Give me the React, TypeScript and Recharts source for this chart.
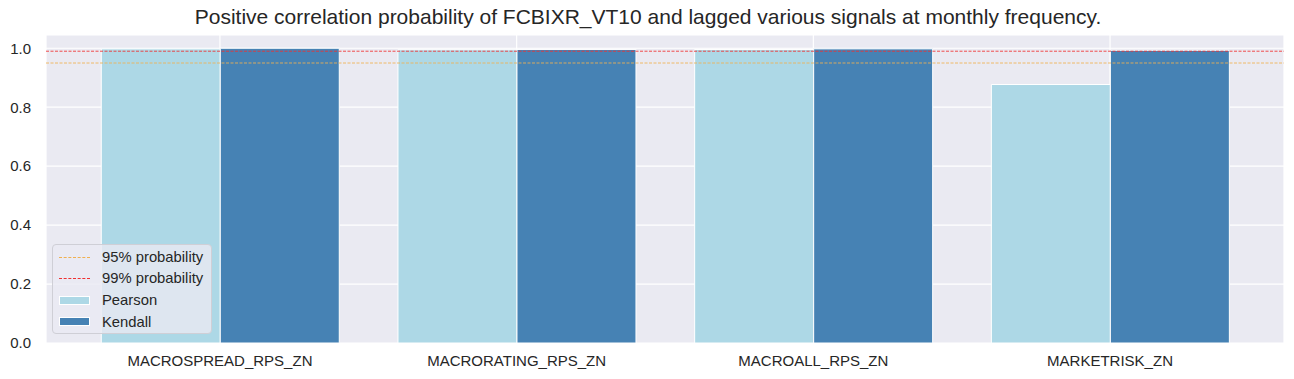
import React from 'react';
import { BarChart, Bar, XAxis, YAxis, CartesianGrid, ReferenceLine } from 'recharts';

const signals = ['MACROSPREAD_RPS_ZN', 'MACRORATING_RPS_ZN', 'MACROALL_RPS_ZN', 'MARKETRISK_ZN'];
const pearson = [0.998, 0.995, 0.996, 0.877];
const kendall = [1.0, 0.996, 0.998, 0.993];
const yTicks = [0, 0.2, 0.4, 0.6, 0.8, 1.0];
const thresholds = [
  { value: 0.95, label: '95% probability', color: '#f0b050' },
  { value: 0.99, label: '99% probability', color: '#f03030' },
];

const data = signals.map((name, i) => ({ name, Pearson: pearson[i], Kendall: kendall[i] }));

const FONT = '"Liberation Sans", Arial, sans-serif';
const TEXT = '#262626';

const LegendBox = () => (
  <div
    style={{
      position: 'absolute',
      left: 52,
      top: 244,
      width: 160,
      height: 90,
      background: 'rgba(234,234,242,0.8)',
      border: '1px solid #cfcfd6',
      borderRadius: 4,
      fontFamily: FONT,
      fontSize: 14.8,
      color: TEXT,
      boxSizing: 'border-box',
    }}
  >
    {thresholds.map((t, i) => (
      <div key={t.label} style={{ position: 'absolute', left: 6, top: 2 + i * 21, height: 20, display: 'flex', alignItems: 'center' }}>
        <div style={{ width: 31, borderTop: `1px dashed ${t.color}` }} />
        <span style={{ marginLeft: 12 }}>{t.label}</span>
      </div>
    ))}
    {[
      { label: 'Pearson', color: '#add8e6' },
      { label: 'Kendall', color: '#4682b4' },
    ].map((s, i) => (
      <div key={s.label} style={{ position: 'absolute', left: 6, top: 45 + i * 21.5, height: 20, display: 'flex', alignItems: 'center' }}>
        <div style={{ width: 31, height: 9, background: s.color, boxSizing: 'border-box', border: '1px solid #fff' }} />
        <span style={{ marginLeft: 12 }}>{s.label}</span>
      </div>
    ))}
  </div>
);

export default function App() {
  return (
    <div style={{ position: 'absolute', left: 0, top: 0, width: 1294, height: 379, background: '#fff' }}>
      <div
        style={{
          position: 'absolute',
          top: 5,
          left: 0,
          width: 1296,
          textAlign: 'center',
          fontFamily: FONT,
          fontSize: 21,
          color: TEXT,
        }}
      >
        Positive correlation probability of FCBIXR_VT10 and lagged various signals at monthly frequency.
      </div>
      <BarChart
        width={1294}
        height={379}
        data={data}
        margin={{ top: 35, right: 10, bottom: 6, left: 0 }}
        barCategoryGap="10%"
        barGap={0}
      >
        <CartesianGrid fill="#eaeaf2" stroke="#ffffff" strokeWidth={1.2} />
        <XAxis
          dataKey="name"
          axisLine={false}
          tickLine={false}
          tickSize={0}
          tickMargin={12}
          height={30}
          padding={{ left: 25.6, right: 25.6 }}
          tick={{ fill: TEXT, fontSize: 15, fontFamily: FONT }}
        />
        <YAxis
          type="number"
          domain={[0, 1.045]}
          ticks={yTicks}
          allowDataOverflow
          axisLine={false}
          tickLine={false}
          tickSize={0}
          tickMargin={15}
          width={46}
          tickFormatter={(v: number) => v.toFixed(1)}
          tick={{ fill: TEXT, fontSize: 15, fontFamily: FONT }}
        />
        <Bar dataKey="Pearson" fill="#add8e6" stroke="#ffffff" strokeWidth={1} isAnimationActive={false} />
        <Bar dataKey="Kendall" fill="#4682b4" stroke="#ffffff" strokeWidth={1} isAnimationActive={false} />
        {thresholds.map((t) => (
          <ReferenceLine key={t.label} y={t.value} stroke={t.color} strokeWidth={1} strokeDasharray="3 1.5" strokeOpacity={0.85} />
        ))}
      </BarChart>
      <LegendBox />
    </div>
  );
}
